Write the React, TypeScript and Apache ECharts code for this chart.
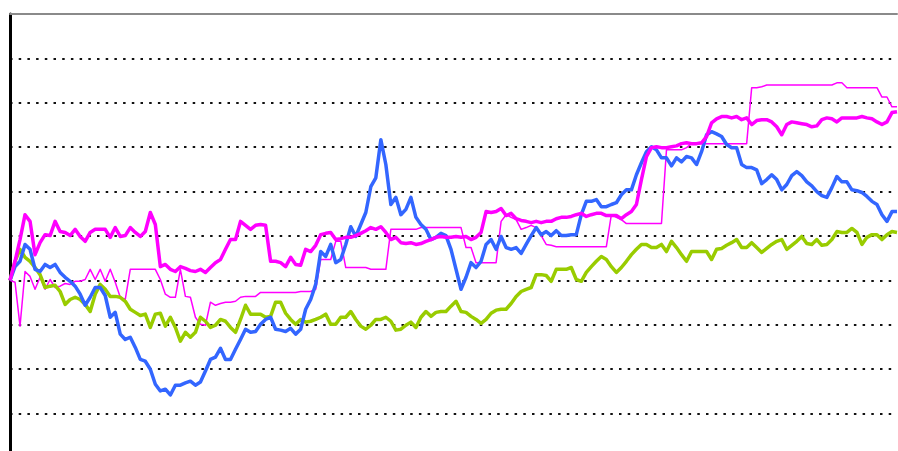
import React, { useEffect, useRef } from "react";
import * as echarts from "echarts";

// Daily relative performance (%), 178 sessions
const days: string[] = Array.from({ length: 178 }, (_, i) => `D${i + 1}`);

const blueSeries: number[] = [
  0, 3.1, 4.3, 8.1, 7.0, 2.5, 2.0, 3.6, 2.9, 3.6,
  1.8, 0.7, -0.2, -1.3, -3.1, -5.6, -3.8, -1.6, -1.6, -3.4,
  -8.3, -7.2, -12.1, -13.3, -12.8, -15.1, -17.8, -18.2, -20.0, -23.4,
  -24.9, -24.5, -25.8, -23.6, -23.6, -23.1, -22.7, -23.6, -22.9, -20.4,
  -17.8, -17.3, -15.3, -17.8, -17.8, -15.5, -13.3, -11.0, -11.7, -11.5,
  -9.9, -8.8, -8.3, -11.0, -11.2, -11.5, -10.8, -12.1, -11.0, -6.5,
  -4.3, -0.9, 6.5, 5.4, 8.1, 4.0, 4.7, 8.1, 12.1, 9.9,
  12.6, 15.3, 21.1, 23.1, 31.7, 26.1, 17.1, 18.7, 14.8, 16.0,
  18.7, 14.2, 12.6, 11.5, 9.2, 9.7, 10.6, 10.1, 7.0, 2.5,
  -2.0, 0.7, 4.0, 2.9, 4.3, 8.1, 9.2, 7.0, 9.9, 7.4,
  7.0, 7.4, 6.1, 8.1, 10.1, 11.9, 10.3, 11.0, 10.1, 11.2,
  10.1, 10.1, 10.3, 10.3, 14.8, 17.8, 17.8, 18.2, 16.6, 16.6,
  17.1, 17.5, 19.3, 20.4, 20.4, 23.8, 26.5, 29.0, 30.1, 29.4,
  27.6, 27.6, 25.8, 27.6, 26.7, 27.9, 27.6, 26.1, 29.0, 32.8,
  33.5, 33.0, 32.4, 30.6, 29.9, 29.9, 26.1, 25.4, 25.4, 24.9,
  21.8, 22.7, 23.8, 22.7, 20.4, 21.6, 23.6, 24.5, 23.6, 22.2,
  21.3, 20.0, 19.1, 18.7, 20.9, 23.4, 22.2, 22.2, 20.4, 20.2,
  19.8, 18.9, 17.8, 17.1, 14.8, 13.3, 15.5, 15.5,
];

const magentaSeries: number[] = [
  0, 4.3, 9.2, 14.8, 13.3, 5.8, 8.5, 10.3, 10.1, 13.3,
  11.0, 10.8, 10.1, 11.5, 9.9, 8.8, 10.8, 11.5, 11.5, 11.5,
  9.7, 11.9, 9.9, 10.1, 11.9, 10.8, 9.9, 11.0, 15.3, 12.6,
  3.1, 3.6, 2.5, 2.0, 3.1, 2.7, 2.2, 2.0, 2.5, 1.8,
  2.9, 4.0, 4.7, 7.0, 9.2, 9.2, 13.3, 12.4, 11.5, 12.4,
  12.6, 12.4, 4.3, 4.3, 4.0, 3.1, 5.2, 3.6, 3.4, 7.0,
  6.5, 7.9, 10.3, 10.6, 10.8, 9.2, 9.4, 9.7, 9.7, 10.1,
  10.6, 11.2, 11.9, 11.5, 12.1, 10.8, 9.2, 9.7, 8.5, 8.3,
  8.5, 8.1, 8.3, 8.8, 9.2, 9.7, 9.9, 9.7, 9.7, 9.9,
  9.7, 9.9, 9.2, 9.7, 10.8, 15.5, 15.3, 15.5, 16.2, 14.6,
  15.1, 13.9, 13.5, 13.3, 13.0, 13.3, 13.0, 13.3, 13.3, 13.9,
  14.2, 14.2, 14.4, 14.8, 15.1, 14.4, 14.8, 15.1, 15.1, 14.6,
  14.6, 14.6, 13.9, 14.8, 15.5, 17.1, 22.7, 27.9, 29.9, 30.1,
  29.9, 29.9, 30.1, 30.3, 30.8, 31.0, 30.8, 30.8, 31.0, 32.4,
  35.5, 36.4, 36.9, 36.9, 36.6, 36.9, 36.2, 36.6, 35.1, 36.0,
  36.2, 36.2, 35.7, 34.6, 32.8, 35.1, 35.7, 35.5, 35.3, 35.1,
  34.6, 34.8, 36.2, 36.6, 36.4, 35.7, 36.6, 36.6, 36.6, 36.6,
  36.9, 36.6, 36.4, 35.7, 35.1, 35.7, 37.8, 38.0,
];

const magentaThinSeries: number[] = [
  0, -0.4, -10.3, 2.0, 0.9, -2.0, 0.7, -2.0, 0.2, -1.6,
  -1.3, -0.7, -0.9, -0.2, -0.2, 0.2, 2.5, 0.2, 2.5, -0.2,
  2.5, -0.4, -3.8, -4.3, 2.5, 2.5, 2.5, 2.5, 2.5, 2.5,
  0.2, -3.1, -3.8, -3.8, 2.5, -3.6, -3.8, -8.3, -9.9, -10.1,
  -4.9, -5.6, -5.2, -4.9, -4.9, -4.7, -3.8, -3.6, -3.6, -3.6,
  -2.7, -2.7, -2.7, -2.7, -2.7, -2.7, -2.7, -2.7, -2.5, -2.5,
  -2.5, -2.0, 4.7, 4.7, 4.7, 8.8, 8.8, 2.9, 2.9, 2.9,
  2.9, 2.9, 2.5, 2.5, 2.5, 2.5, 11.5, 11.5, 11.5, 11.5,
  11.5, 11.5, 11.9, 11.9, 11.9, 11.9, 11.9, 11.9, 11.9, 11.9,
  11.9, 7.4, 7.4, 4.0, 4.0, 4.0, 4.0, 4.0, 13.3, 14.8,
  14.2, 13.7, 11.5, 11.9, 12.4, 11.9, 10.1, 8.1, 7.9, 7.6,
  7.6, 7.6, 7.6, 7.6, 7.6, 7.6, 7.6, 7.6, 7.6, 7.6,
  14.8, 14.2, 13.7, 12.8, 12.8, 12.8, 12.8, 12.8, 12.8, 12.8,
  12.8, 29.4, 29.4, 29.4, 29.4, 29.9, 30.8, 30.8, 30.8, 30.8,
  30.8, 30.8, 30.8, 30.8, 30.8, 30.8, 30.8, 30.8, 43.4, 43.4,
  43.6, 44.0, 44.0, 44.0, 44.0, 44.0, 44.0, 44.0, 44.0, 44.0,
  44.0, 44.0, 44.0, 44.0, 44.0, 44.5, 44.5, 43.4, 43.4, 43.4,
  43.4, 43.4, 43.4, 43.4, 41.3, 41.3, 39.1, 39.1,
];

const greenSeries: number[] = [
  0, 4.3, 7.0, 5.2, 4.3, 2.9, 1.3, -1.6, -1.3, -1.1,
  -2.5, -5.4, -4.3, -3.8, -4.3, -5.4, -7.0, -3.1, -0.9, -2.0,
  -3.6, -3.6, -3.8, -4.7, -6.5, -7.2, -7.9, -7.6, -10.6, -7.6,
  -7.4, -10.3, -8.3, -10.6, -13.7, -11.7, -12.8, -11.7, -8.3, -9.2,
  -10.6, -10.1, -8.8, -9.2, -10.6, -11.7, -8.8, -5.6, -7.6, -7.6,
  -7.6, -8.3, -8.1, -4.9, -4.9, -7.4, -8.8, -9.9, -8.8, -9.4,
  -9.2, -8.8, -8.3, -7.6, -9.9, -9.9, -8.3, -8.3, -7.0, -8.8,
  -10.3, -11.0, -10.1, -8.8, -8.8, -8.3, -9.2, -11.2, -11.0, -10.1,
  -9.4, -10.6, -8.3, -7.0, -8.1, -7.2, -7.0, -7.0, -5.8, -4.7,
  -7.0, -7.2, -8.1, -8.8, -9.7, -8.8, -7.4, -6.7, -6.5, -6.5,
  -5.2, -3.6, -2.5, -2.0, -1.6, 1.3, 1.3, 1.1, -0.2, 2.5,
  2.5, 2.5, 2.9, 0.2, -0.2, 1.8, 3.1, 4.3, 5.4, 4.7,
  3.1, 1.8, 2.9, 4.3, 5.8, 7.0, 8.1, 8.1, 7.4, 7.4,
  8.1, 6.5, 8.8, 7.4, 5.8, 4.3, 6.5, 6.5, 6.5, 6.5,
  4.7, 7.0, 7.2, 7.9, 8.5, 9.2, 7.4, 7.4, 8.5, 7.4,
  6.3, 7.2, 8.1, 8.8, 9.2, 7.0, 7.9, 8.8, 9.9, 8.3,
  8.1, 9.2, 7.9, 8.1, 9.2, 11.0, 10.8, 10.8, 11.7, 10.8,
  8.1, 9.7, 10.3, 10.3, 9.2, 10.3, 11.0, 10.8,
];

const yTicks = { min: -40, max: 60, step: 10 };

export default function App() {
  const ref = useRef<HTMLDivElement>(null);
  useEffect(() => {
    if (!ref.current) return;
    const chart = echarts.init(ref.current, undefined, { renderer: "svg" });
    const line = (data: number[], color: string, width: number, z: number) => ({
      type: "line",
      data,
      showSymbol: false,
      symbol: "none",
      z,
      lineStyle: { color, width, join: "round" },
      emphasis: { disabled: true },
    });
    chart.setOption({
      animation: false,
      backgroundColor: "#ffffff",
      grid: { left: 10, right: 1, top: 14, bottom: 2, containLabel: false },
      xAxis: {
        type: "category",
        data: days,
        boundaryGap: false,
        position: "top",
        axisLine: { show: true, onZero: false, lineStyle: { color: "#8a8a8a", width: 2 } },
        axisTick: { show: false },
        axisLabel: { show: false },
        splitLine: { show: false },
      },
      yAxis: {
        type: "value",
        min: yTicks.min,
        max: yTicks.max,
        interval: yTicks.step,
        axisLine: { show: true, onZero: false, lineStyle: { color: "#000000", width: 3 } },
        axisTick: { show: false },
        axisLabel: { show: false },
        splitLine: {
          show: true,
          lineStyle: { color: "#111111", width: 2, type: [2.5, 6.2] },
        },
      },
      series: [
        line(magentaThinSeries, "#ff00ff", 1.5, 2),
        line(greenSeries, "#99cc00", 3.5, 3),
        line(blueSeries, "#3366ff", 3.5, 4),
        line(magentaSeries, "#ff00ff", 3.5, 5),
      ],
    });
    return () => chart.dispose();
  }, []);
  return (
    <div
      ref={ref}
      style={{ position: "fixed", left: 0, top: 0, width: 898, height: 460, background: "#fff" }}
    />
  );
}
